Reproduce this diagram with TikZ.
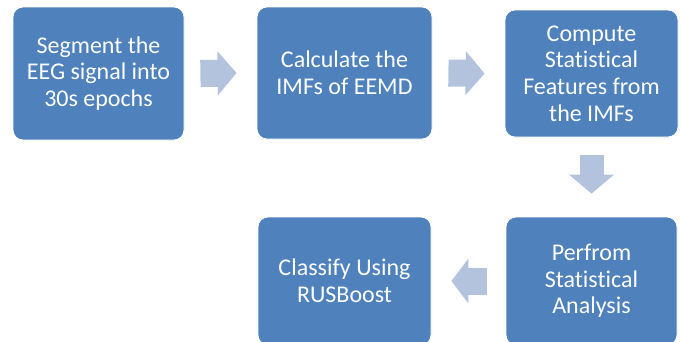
\documentclass[tikz,border=0pt]{standalone}
\usepackage{fontspec}
\setmainfont{Carlito}[Ligatures={NoCommon}]
\usetikzlibrary{arrows.meta}
\definecolor{boxblue}{HTML}{4F81BD}
\definecolor{arrowblue}{HTML}{B3C3DD}
\tikzset{
  stepbox/.style={draw=white, line width=0.8pt, fill=boxblue, rounded corners=10pt,
    text=white, align=center, inner sep=0pt,
    font=\fontsize{24}{26.7}\selectfont},
  blockarrow/.style={draw=arrowblue, line width=27pt,
    -{Triangle[length=19pt,width=43pt]}},
}
\begin{document}
\begin{tikzpicture}[x=1pt,y=-1pt]
\useasboundingbox (0,0) rectangle (681,341);
\node[stepbox, minimum width=171pt, minimum height=133pt] (b1) at (98.5,73.5)
  {Segment the\\EEG signal into\\30s epochs};
\node[stepbox, minimum width=175pt, minimum height=132pt] (b2) at (344.5,73)
  {Calculate the\\IMFs of EEMD};
\node[stepbox, minimum width=173pt, minimum height=127pt] (b3) at (591.5,73.5)
  {Compute\\Statistical\\Features from\\the IMFs};
\node[stepbox, minimum width=171pt, minimum height=128pt] (b4) at (591.5,281)
  {Perfrom\\Statistical\\Analysis};
\node[stepbox, minimum width=173pt, minimum height=128pt] (b5) at (344.5,281)
  {Classify Using\\RUSBoost};
\draw[blockarrow] ([xshift=16pt]b1.east) -- ([xshift=-20pt]b2.west);
\draw[blockarrow] ([xshift=16pt]b2.east) -- ([xshift=-20pt]b3.west);
\draw[blockarrow, line width=24pt, -{Triangle[length=19pt,width=44pt]}]
  ([yshift=-18pt]b3.south) -- ([yshift=23pt]b4.north);
\draw[blockarrow, -{Triangle[length=17pt,width=44pt]}]
  ([xshift=-19pt]b4.west) -- ([xshift=20pt]b5.east);
\end{tikzpicture}
\end{document}
